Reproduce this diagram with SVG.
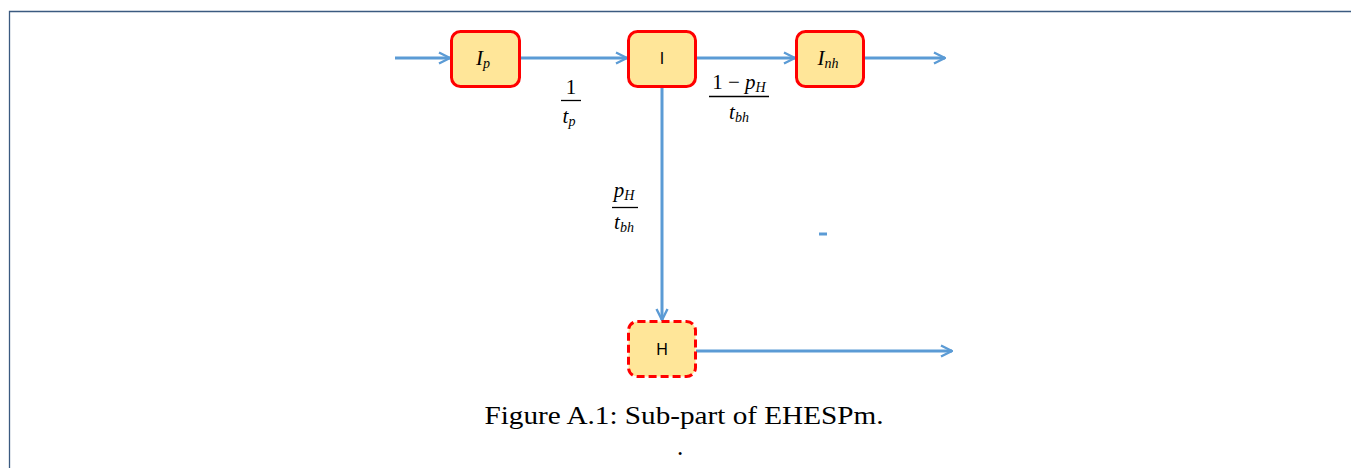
<svg xmlns="http://www.w3.org/2000/svg" width="1351" height="468" viewBox="0 0 1351 468">
<defs>
<marker id="ah" viewBox="0 0 14 14" refX="13" refY="7" markerWidth="14" markerHeight="14" markerUnits="userSpaceOnUse" orient="auto">
<path d="M2,1.5 L13,7 L2,12.5" fill="none" stroke="#5b9bd5" stroke-width="2.4" stroke-linejoin="miter"/>
</marker>
<style>
.box{fill:#ffe699;stroke:#ff0000;stroke-width:3}
.dash{stroke-dasharray:8 4}
.lbl{font-family:"Liberation Sans",Arial,sans-serif;font-size:16px;fill:#000;text-anchor:middle}
.m{font-family:"Liberation Serif","DejaVu Serif",serif;font-style:italic;fill:#000;text-anchor:middle}
.mn{font-family:"Liberation Serif","DejaVu Serif",serif;fill:#000;text-anchor:middle}
.con{stroke:#5b9bd5;stroke-width:3;fill:none}
.cap{font-family:"Liberation Serif","Times New Roman",serif;font-size:25px;fill:#000;text-anchor:middle}
</style>
</defs>
<rect width="1351" height="468" fill="#fff"/>
<path d="M9.5,468 V11.5 H1351" fill="none" stroke="#3b5a80" stroke-width="1.3"/>
<g id="connectors">
<line class="con" x1="395" y1="58" x2="450" y2="58" marker-end="url(#ah)"/>
<line class="con" x1="520" y1="58" x2="627" y2="58" marker-end="url(#ah)"/>
<line class="con" x1="696" y1="58" x2="795" y2="58" marker-end="url(#ah)"/>
<line class="con" x1="864" y1="58" x2="945" y2="58" marker-end="url(#ah)"/>
<line class="con" x1="662" y1="87" x2="662" y2="320" marker-end="url(#ah)"/>
<line class="con" x1="696" y1="351" x2="952" y2="351" marker-end="url(#ah)"/>
<line x1="819" y1="234" x2="827" y2="234" stroke="#5b9bd5" stroke-width="3"/>
<g id="lbl-tp">
<text class="mn" x="571" y="94" font-size="21">1</text>
<line x1="561" y1="100.5" x2="581" y2="100.5" stroke="#000" stroke-width="1.3"/>
<text class="m" x="569" y="123" font-size="21">t<tspan font-size="14" dy="3">p</tspan></text>
</g>
<g id="lbl-1ph">
<text class="m" x="739" y="89" font-size="21"><tspan font-style="normal">1 − </tspan>p<tspan font-size="14" dy="3">H</tspan></text>
<line x1="709" y1="96.5" x2="769" y2="96.5" stroke="#000" stroke-width="1.3"/>
<text class="m" x="739" y="119" font-size="21">t<tspan font-size="14" dy="3">bh</tspan></text>
</g>
<g id="lbl-ph">
<text class="m" x="624" y="197" font-size="21">p<tspan font-size="14" dy="3">H</tspan></text>
<line x1="612" y1="207.5" x2="638" y2="207.5" stroke="#000" stroke-width="1.3"/>
<text class="m" x="624" y="229" font-size="21">t<tspan font-size="14" dy="3">bh</tspan></text>
</g>
</g>
<g id="node-Ip">
<rect class="box" x="451.5" y="31.5" width="68" height="55" rx="9"/>
<text class="m" x="483" y="65" font-size="21">I<tspan font-size="14" dy="3">p</tspan></text>
</g>
<g id="node-I">
<rect class="box" x="628.5" y="31.5" width="67" height="55" rx="9"/>
<text class="lbl" x="662" y="64">I</text>
</g>
<g id="node-Inh">
<rect class="box" x="796.5" y="31.5" width="67" height="55" rx="9"/>
<text class="m" x="828" y="65" font-size="21">I<tspan font-size="14" dy="3">nh</tspan></text>
</g>
<g id="node-H">
<rect class="box dash" x="628.5" y="321.5" width="67" height="55" rx="9"/>
<text class="lbl" x="662" y="355">H</text>
</g>
<text class="cap" x="684" y="424" textLength="399" lengthAdjust="spacingAndGlyphs">Figure A.1: Sub-part of EHESPm.</text>
<text class="cap" x="680" y="455">.</text>
</svg>
